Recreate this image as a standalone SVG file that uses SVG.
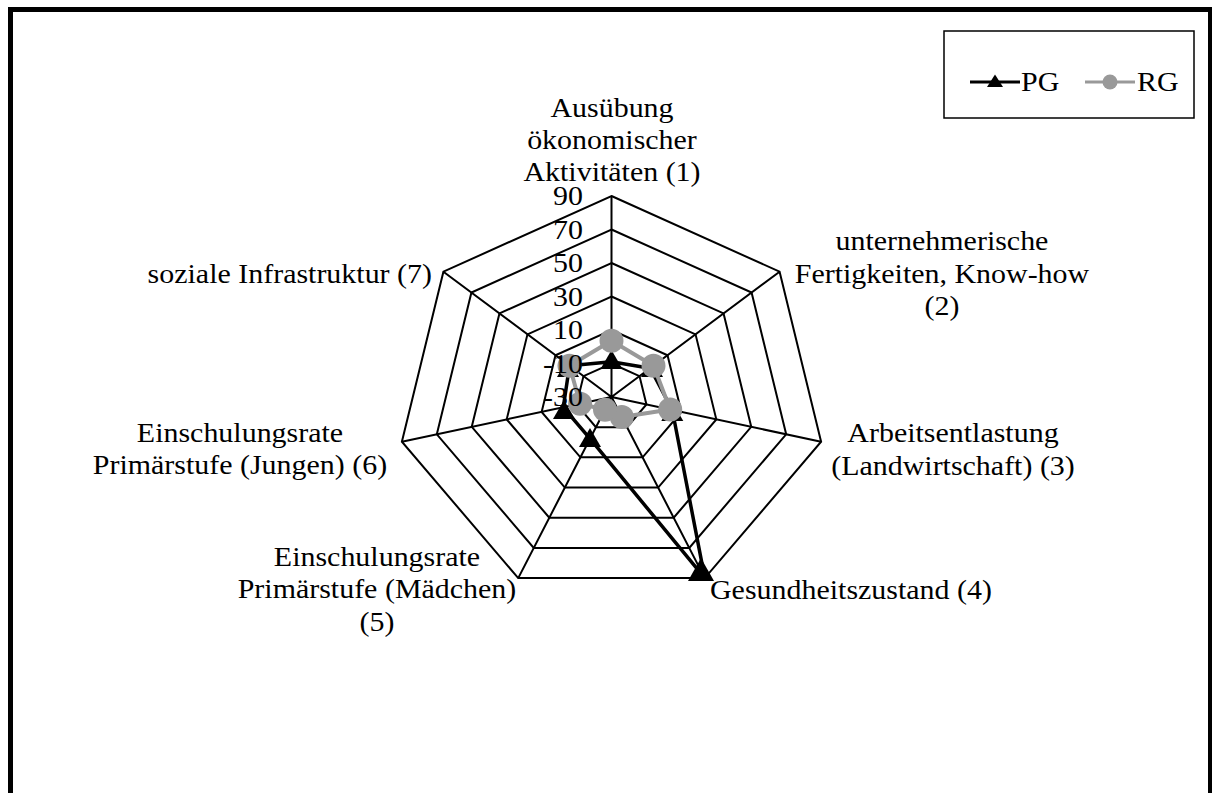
<svg xmlns="http://www.w3.org/2000/svg" xmlns:xlink="http://www.w3.org/1999/xlink" width="1212" height="793" viewBox="0 0 1212 793">
  <style>
    text { font-family: "Liberation Serif", "Times New Roman", serif; font-size: 28px; fill: #000;
           transform-box: fill-box; transform: scaleX(1.07); transform-origin: left center; }
    .mid { text-anchor: middle; }
    .end { text-anchor: end; }
    .mid text { transform-origin: center center; }
    .end text { transform-origin: right center; }
    .grid { fill: none; stroke: #000; stroke-width: 2; stroke-linejoin: miter; }
    .pg { fill: none; stroke: #000; stroke-width: 3.5; stroke-linejoin: round; }
    .rg { fill: none; stroke: #999; stroke-width: 4; stroke-linejoin: round; }
    .pgm { fill: #000; }
    .rgm { fill: #999; }
  </style>
  <defs>
    <path id="tri" d="M0 -10 L11 9 L-11 9 Z"/>
    <path id="tri-l" d="M0 -12 L13 11 L-13 11 Z"/>
    <path id="tri-s" d="M0 -6.5 L8 6 L-8 6 Z"/>
  </defs>

  <rect width="1212" height="793" fill="#fff"/>
  <!-- outer chart frame -->
  <rect id="frame" x="10.5" y="9.5" width="1200" height="900" fill="none" stroke="#000" stroke-width="5"/>

  <!-- radar grid: rings at -10 ... 90, centre = -30 -->
  <g id="grid" class="grid">
    <polygon points="611.5,363.5 639.52,376.11 646.44,404.46 627.05,427.18 595.95,427.18 576.57,404.46 583.49,376.11"/>
    <polygon points="611.5,330 667.53,355.23 681.37,411.91 642.59,457.37 580.41,457.37 541.63,411.91 555.47,355.23"/>
    <polygon points="611.5,296.5 695.55,334.34 716.31,419.37 658.14,487.55 564.86,487.55 506.69,419.37 527.45,334.34"/>
    <polygon points="611.5,263 723.56,313.45 751.24,426.82 673.69,517.73 549.31,517.73 471.76,426.82 499.44,313.45"/>
    <polygon points="611.5,229.5 751.58,292.57 786.18,434.28 689.23,547.92 533.77,547.92 436.82,434.28 471.42,292.57"/>
    <polygon points="611.5,196 779.59,271.68 821.11,441.73 704.78,578.1 518.22,578.1 401.89,441.73 443.41,271.68"/>
    <path d="M611.5 397 L611.5 196 M611.5 397 L779.59 271.68 M611.5 397 L821.11 441.73 M611.5 397 L704.78 578.1 M611.5 397 L518.22 578.1 M611.5 397 L401.89 441.73 M611.5 397 L443.41 271.68"/>
  </g>

  <!-- series PG -->
  <g id="series-pg">
    <polygon class="pg" points="611.5,361.8 650.2,368.2 672.3,410 704.8,578.1 590,438.7 563.3,407.3 569.5,365.7"/>
    <use xlink:href="#tri" class="pgm" x="611.5" y="360"/>
    <use xlink:href="#tri" class="pgm" x="652" y="368"/>
    <use xlink:href="#tri" class="pgm" x="672.3" y="412"/>
    <use xlink:href="#tri-l" class="pgm" x="701" y="570"/>
    <use xlink:href="#tri" class="pgm" x="590" y="438"/>
    <use xlink:href="#tri" class="pgm" x="564" y="410"/>
    <use xlink:href="#tri" class="pgm" x="568" y="368"/>
  </g>

  <!-- series RG -->
  <g id="series-rg">
    <polygon class="rg" points="611.5,340.7 653.5,365.7 670.2,409.5 621.8,416.9 605,409.7 580.1,403.7 569.5,365.7"/>
    <circle class="rgm" cx="611.5" cy="340.7" r="12"/>
    <circle class="rgm" cx="653.5" cy="365.7" r="12"/>
    <circle class="rgm" cx="670.2" cy="409.5" r="12"/>
    <circle class="rgm" cx="621.8" cy="416.9" r="12"/>
    <circle class="rgm" cx="605" cy="409.7" r="12"/>
    <circle class="rgm" cx="580.1" cy="403.7" r="12"/>
    <circle class="rgm" cx="569.5" cy="365.7" r="12"/>
  </g>

  <!-- value scale -->
  <g id="scale" class="end">
    <text x="583" y="205">90</text>
    <text x="583" y="239">70</text>
    <text x="583" y="272">50</text>
    <text x="583" y="306">30</text>
    <text x="583" y="339">10</text>
    <text x="583" y="373">-10</text>
    <text x="583" y="406">-30</text>
  </g>

  <!-- category labels -->
  <g id="cat1" class="mid">
    <text x="612" y="117">Ausübung</text>
    <text x="612" y="149">ökonomischer</text>
    <text x="612" y="181">Aktivitäten (1)</text>
  </g>
  <g id="cat2" class="mid">
    <text x="942" y="250">unternehmerische</text>
    <text x="942" y="283">Fertigkeiten, Know-how</text>
    <text x="942" y="315">(2)</text>
  </g>
  <g id="cat3" class="mid">
    <text x="953" y="442">Arbeitsentlastung</text>
    <text x="953" y="475">(Landwirtschaft) (3)</text>
  </g>
  <g id="cat4">
    <text x="710" y="599">Gesundheitszustand (4)</text>
  </g>
  <g id="cat5" class="mid">
    <text x="377" y="566">Einschulungsrate</text>
    <text x="377" y="598">Primärstufe (Mädchen)</text>
    <text x="377" y="631">(5)</text>
  </g>
  <g id="cat6" class="mid">
    <text x="240" y="442">Einschulungsrate</text>
    <text x="240" y="474">Primärstufe (Jungen) (6)</text>
  </g>
  <g id="cat7" class="end">
    <text x="432" y="283">soziale Infrastruktur (7)</text>
  </g>

  <!-- legend -->
  <g id="legend">
    <rect x="944" y="31" width="250" height="87" fill="#fff" stroke="#000" stroke-width="1.5"/>
    <line x1="970" y1="82" x2="1020" y2="82" stroke="#000" stroke-width="3"/>
    <use xlink:href="#tri-s" class="pgm" x="995" y="81"/>
    <text x="1021" y="91">PG</text>
    <line x1="1085" y1="82" x2="1135" y2="82" stroke="#999" stroke-width="3"/>
    <circle class="rgm" cx="1110" cy="82" r="7.5"/>
    <text x="1137" y="91">RG</text>
  </g>
</svg>
